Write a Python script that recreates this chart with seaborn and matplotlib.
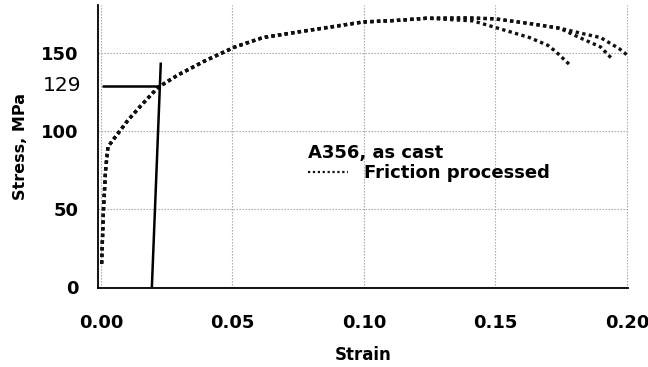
import numpy as np
import pandas as pd
import matplotlib
matplotlib.use("Agg")
import matplotlib.pyplot as plt
import seaborn as sns

# Tensile curves of friction processed A356 (three specimens)
strain_a = [0.0003, 0.001, 0.0018, 0.0027, 0.0103, 0.0156, 0.0217, 0.0293, 0.0395,
            0.051, 0.0616, 0.0745, 0.087, 0.0996, 0.1125, 0.124, 0.1415, 0.153, 0.163,
            0.170, 0.173, 0.178]
stress_a = [15, 50, 75, 90, 107, 117, 128, 136, 145,
            154, 160, 163.5, 166.7, 170, 171, 172.4, 170.7, 165, 160,
            155, 151, 143]

strain_b = [0.0003, 0.001, 0.0018, 0.0027, 0.0103, 0.0156, 0.0217, 0.0293, 0.0395,
            0.051, 0.0616, 0.0745, 0.087, 0.0996, 0.1125, 0.124, 0.140, 0.150, 0.163,
            0.1745, 0.182, 0.190, 0.194]
stress_b = [15, 50, 75, 90, 107, 117, 128, 136, 145,
            154, 160, 163.5, 166.7, 170, 171, 172.4, 172.6, 172, 169,
            166, 160, 154, 147]

strain_c = [0.0003, 0.001, 0.0018, 0.0027, 0.0103, 0.0156, 0.0217, 0.0293, 0.0395,
            0.051, 0.0616, 0.0745, 0.087, 0.0996, 0.1125, 0.124, 0.140, 0.150, 0.163,
            0.1745, 0.182, 0.190, 0.197, 0.200]
stress_c = [15, 50, 75, 90, 107, 117, 128, 136, 145,
            154, 160, 163.5, 166.7, 170, 171, 172.4, 172.6, 172, 169,
            166, 163, 160, 153, 149]

# Offset line used to read the yield strength
offset_strain = [0.0194, 0.0228]
offset_stress = [0.0, 144.0]
yield_strength = 129
yield_strain = [0.0005, 0.0225]

x_ticks = [0.00, 0.05, 0.10, 0.15, 0.20]
y_ticks = [0, 50, 100, 150]

df = pd.concat([
    pd.DataFrame({"Strain": strain_a, "Stress": stress_a, "specimen": "a"}),
    pd.DataFrame({"Strain": strain_b, "Stress": stress_b, "specimen": "b"}),
    pd.DataFrame({"Strain": strain_c, "Stress": stress_c, "specimen": "c"}),
])

sns.set_style("white")
plt.rcParams["font.family"] = ["DejaVu Sans"]
plt.rcParams["text.color"] = "black"
plt.rcParams["axes.labelcolor"] = "black"
plt.rcParams["xtick.color"] = "black"
plt.rcParams["ytick.color"] = "black"

fig = plt.figure(figsize=(6.48, 3.67), dpi=100)
ax = fig.add_axes([0.151, 0.215, 0.818, 0.771])

sns.lineplot(data=df, x="Strain", y="Stress", units="specimen", estimator=None,
             sort=False, color="#111111", linewidth=2.4, ax=ax, legend=False)
for ln in ax.get_lines():
    ln.set_dashes((1.0, 1.0))

ax.plot(offset_strain, offset_stress, color="black", linewidth=1.8, solid_capstyle="butt")
ax.plot(yield_strain, [yield_strength, yield_strength], color="black", linewidth=1.8,
        solid_capstyle="butt")

ax.set_xlim(-0.00114, 0.2004)
ax.set_ylim(-0.64, 180.8)
ax.set_xticks(x_ticks)
ax.set_xticklabels([f"{v:.2f}" for v in x_ticks])
ax.set_yticks(y_ticks)

ax.grid(True, color="#a0a0a0", linestyle=(0, (1.2, 1.5)), linewidth=0.8)
ax.set_axisbelow(True)
for s in ("top", "right"):
    ax.spines[s].set_visible(False)
for s in ("left", "bottom"):
    ax.spines[s].set_color("black")
    ax.spines[s].set_linewidth(1.3)

ax.tick_params(axis="y", direction="out", length=11, width=1.3, color="black",
               labelsize=13, pad=3)
ax.tick_params(axis="x", direction="out", length=8.5, width=1.3, color="black",
               labelsize=13, pad=10)
for lab in ax.get_xticklabels() + ax.get_yticklabels():
    lab.set_fontweight("bold")

ax.text(-0.0075, yield_strength, str(yield_strength), ha="right", va="center",
        fontsize=14.5, color="black")

ax.set_xlabel("Strain", fontsize=12, fontweight="bold")
ax.xaxis.set_label_coords(0.5, -0.205)
ax.set_ylabel("Stress, MPa", fontsize=11.5, fontweight="bold")
ax.yaxis.set_label_coords(-0.131, 0.5)

handle = plt.Line2D([], [], color="#111111", linewidth=1.6, dashes=(1.0, 1.2))
ax.legend([handle], ["Friction processed"], title="A356, as cast",
          loc="upper left", bbox_to_anchor=(0.38, 0.54), frameon=False,
          alignment="left", handlelength=2.2, handletextpad=0.9,
          prop={"weight": "bold", "size": 13},
          title_fontproperties={"weight": "bold", "size": 13},
          borderpad=0, labelspacing=0.1)

fig.savefig("out.png", dpi=100)
